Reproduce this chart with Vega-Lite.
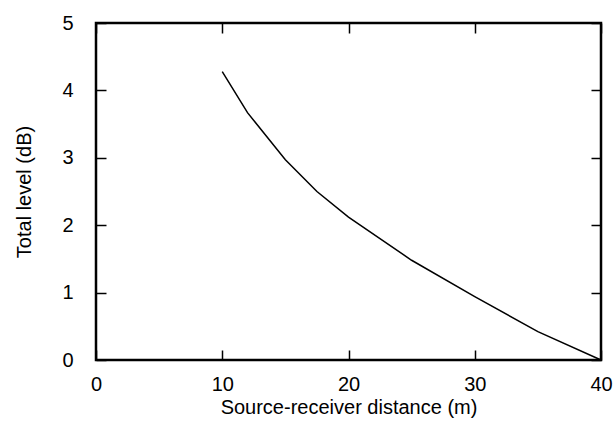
{
  "$schema": "https://vega.github.io/schema/vega-lite/v6.json",
  "width": 505,
  "height": 337,
  "autosize": {"type": "none"},
  "padding": {"left": 96, "top": 23, "right": 12, "bottom": 70},
  "background": "white",
  "config": {
    "view": {"stroke": "black", "strokeWidth": 2.5},
    "font": "Liberation Sans",
    "axis": {
      "domain": false,
      "grid": false,
      "ticks": true,
      "tickColor": "black",
      "tickOpacity": 1,
      "tickWidth": 1.5,
      "labelFlush": false,
      "labelFont": "Liberation Sans",
      "labelFontSize": 20,
      "labelColor": "black",
      "titleFont": "Liberation Sans",
      "titleFontSize": 20,
      "titleFontWeight": "normal",
      "titleColor": "black"
    }
  },
  "data": {
    "values": [
      {"d": 10, "level": 4.28},
      {"d": 12, "level": 3.67},
      {"d": 15, "level": 2.97},
      {"d": 17.5, "level": 2.5},
      {"d": 20, "level": 2.12},
      {"d": 25, "level": 1.48},
      {"d": 30, "level": 0.94},
      {"d": 35, "level": 0.42},
      {"d": 40, "level": 0}
    ]
  },
  "layer": [
    {
      "mark": {"type": "line", "color": "black", "strokeWidth": 1.5},
      "encoding": {
        "x": {
          "field": "d", "type": "quantitative",
          "scale": {"domain": [0, 40], "nice": false},
          "axis": {"orient": "bottom", "tickSize": -10, "values": [0, 10, 20, 30, 40], "title": "Source-receiver distance (m)", "labelPadding": 24, "titlePadding": 3}
        },
        "y": {
          "field": "level", "type": "quantitative",
          "scale": {"domain": [0, 5], "nice": false},
          "axis": {"orient": "left", "tickSize": -10, "values": [0, 1, 2, 3, 4, 5], "title": "Total level (dB)", "labelPadding": 33, "titlePadding": 27}
        }
      }
    },
    {
      "mark": {"type": "line", "opacity": 0},
      "encoding": {
        "x": {
          "field": "d", "type": "quantitative",
          "scale": {"domain": [0, 40], "nice": false},
          "axis": {"orient": "top", "tickSize": -10, "values": [0, 10, 20, 30, 40], "labels": false, "title": null}
        },
        "y": {
          "field": "level", "type": "quantitative",
          "scale": {"domain": [0, 5], "nice": false},
          "axis": {"orient": "right", "tickSize": -10, "values": [0, 1, 2, 3, 4, 5], "labels": false, "title": null}
        }
      }
    }
  ],
  "resolve": {"axis": {"x": "independent", "y": "independent"}}
}
